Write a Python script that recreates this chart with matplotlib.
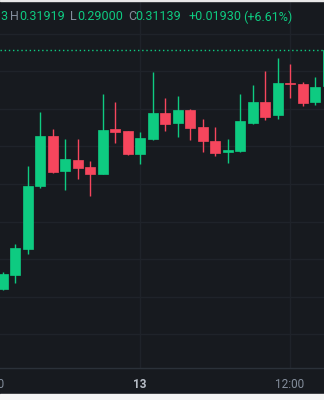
# Candlestick chart, 1h candles, dark theme

import matplotlib.pyplot as plt
import numpy as np

plt.rcParams['font.family'] = ['Roboto', 'DejaVu Sans']

# DATA - hourly candles from 12th 13:00 to 13th 15:00
hours = np.arange(27)
opens = np.array([0.18384, 0.19147, 0.20533, 0.23909, 0.26576, 0.24677, 0.25296, 0.24907, 0.24533,
                  0.26917, 0.26827, 0.25584, 0.26384, 0.27787, 0.27237, 0.27963, 0.27056, 0.26293,
                  0.25680, 0.25760, 0.27237, 0.28357, 0.27664, 0.29360, 0.29349, 0.28357, 0.29209])
highs = np.array([0.19307, 0.20784, 0.24960, 0.27824, 0.26933, 0.26400, 0.26400, 0.25211, 0.28800,
                  0.28357, 0.26840, 0.26773, 0.29973, 0.28587, 0.28693, 0.28016, 0.27451, 0.27056,
                  0.26400, 0.28784, 0.29296, 0.30027, 0.30720, 0.30400, 0.29440, 0.29691, 0.31919])
lows = np.array([0.18331, 0.18736, 0.20251, 0.23771, 0.24587, 0.23680, 0.24283, 0.23344, 0.24510,
                 0.26203, 0.25531, 0.25067, 0.26370, 0.26811, 0.26523, 0.26347, 0.25723, 0.25477,
                 0.25136, 0.25707, 0.27184, 0.27413, 0.27483, 0.28587, 0.28160, 0.28197, 0.29000])
closes = np.array([0.19200, 0.20587, 0.23909, 0.26576, 0.24656, 0.25349, 0.24869, 0.24533, 0.26880,
                   0.26773, 0.25616, 0.26453, 0.27787, 0.27200, 0.27963, 0.27003, 0.26293, 0.25669,
                   0.25813, 0.27360, 0.28357, 0.27573, 0.29403, 0.29307, 0.28304, 0.29189, 0.31139])

tick_pos = [-1, 11, 23]
tick_labels = ['12:00', '13', '12:00']
grid_prices = np.arange(0.16, 0.33, 0.02)
last_close = 0.31139

verde = '#0ecb81'
vermelho = '#f6465d'
fundo = '#171a1f'
cinza = '#848e9c'

fig = plt.figure(figsize=(3.24, 4.0), dpi=100, facecolor=fundo)
ax = fig.add_axes([0, 0.08, 1, 0.92])
ax.set_facecolor(fundo)

# faixas claras nas bordas
fig.patches.append(plt.Rectangle((0, 0), 1, 6 / 400, transform=fig.transFigure,
                                 color='#f5f5f5', zorder=10))
fig.patches.append(plt.Rectangle((0, 399 / 400), 1, 1 / 400, transform=fig.transFigure,
                                 color='#e8e8e8', zorder=10))

cores = np.where(closes >= opens, verde, vermelho)
ax.vlines(hours, lows, highs, colors=cores, linewidth=1, zorder=3)
altura = np.maximum(np.abs(closes - opens), 0.0006)
ax.bar(hours, altura, bottom=np.minimum(opens, closes), width=0.8, color=cores,
       edgecolor=cores, linewidth=0.5, zorder=4)

# linha do ultimo preco
ax.axhline(last_close, color=verde, linestyle=(0, (1, 2)), linewidth=1, zorder=2)

ax.set_yticks(grid_prices)
ax.set_xticks(tick_pos)
ax.set_xticklabels(tick_labels)
# limites depois dos ticks (set_xticks expande a vista)
ax.set_xlim(-0.2, 25.72)
ax.set_ylim(0.14187, 0.33813)

ax.tick_params(axis='y', left=False, labelleft=False)
ax.tick_params(axis='x', length=0, pad=7, labelsize=8.5, labelcolor=cinza)
ax.get_xticklabels()[1].set_color('#b7bdc6')
ax.get_xticklabels()[1].set_fontweight('bold')
ax.grid(True, color='#1f232a', linewidth=1, zorder=0)

# rotulo fora da vista (so aparece o ultimo "0")
ax.text(tick_pos[0], -9.7 / 368, tick_labels[0], transform=ax.get_xaxis_transform(),
        ha='center', va='top', fontsize=8.5, color=cinza, clip_on=False)

for lado in ['top', 'left', 'right']:
    ax.spines[lado].set_visible(False)
ax.spines['bottom'].set_color('#2b3139')
ax.spines['bottom'].set_linewidth(1)

# cabecalho OHLC
y_txt = 1 - 17 / 400
partes = [(0, '3', verde), (10, 'H', cinza), (19, '0.31919', verde),
          (70, 'L', cinza), (77.3, '0.29000', verde), (128.3, 'C', cinza),
          (135, '0.31139', verde), (188, '+0.01930', verde), (243, '(+6.61%)', verde)]
for x_px, texto, cor in partes:
    fig.text(x_px / 324, y_txt, texto, color=cor, fontsize=9, va='center', ha='left')

fig.savefig('out.png', dpi=100, facecolor=fundo)
